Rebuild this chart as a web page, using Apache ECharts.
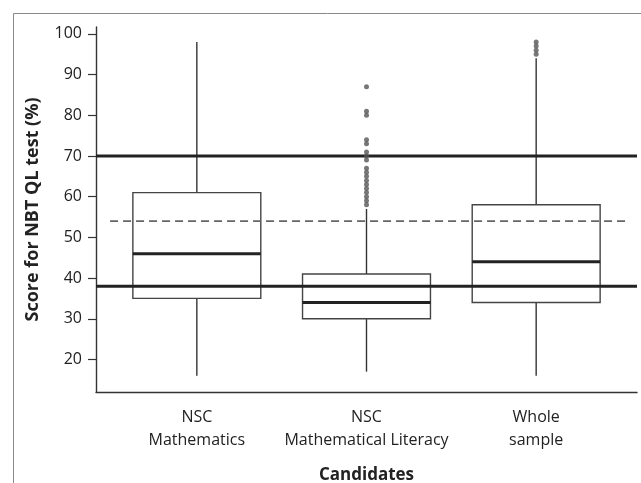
<!DOCTYPE html>
<html>
<head>
<meta charset="utf-8">
<script src="https://cdn.jsdelivr.net/npm/echarts@6/dist/echarts.min.js"></script>
<style>html,body{margin:0;padding:0;background:#fff;}#c{width:641px;height:483px;}</style>
</head>
<body>
<div id="c"></div>
<script>
var categories = ['NSC\nMathematics', 'NSC\nMathematical Literacy', 'Whole\nsample'];
var whiskerLow = [16, 17, 16];
var quartile1 = [35, 30, 34];
var medians = [46, 34, 44];
var quartile3 = [61, 41, 58];
var whiskerHigh = [98, 57, 94];
var outliersLiteracy = [87, 81, 80, 74, 73, 71, 70, 69, 67, 66, 65, 64, 63, 62, 61, 60, 59, 58];
var outliersWhole = [98, 97, 96, 95];
var yTicks = [20, 30, 40, 50, 60, 70, 80, 90, 100];
var solidRefLines = [70, 38];
var dashedRefLine = 54;

var FONT = 'Open Sans';
var chart = echarts.init(document.getElementById('c'), null, {renderer: 'canvas'});

var boxData = categories.map(function (c, i) {
  return [i, whiskerLow[i], quartile1[i], medians[i], quartile3[i], whiskerHigh[i]];
});
var outlierData = [];
outliersLiteracy.forEach(function (v) { outlierData.push([1, v]); });
outliersWhole.forEach(function (v) { outlierData.push([2, v]); });

var series = [];
solidRefLines.forEach(function (v) {
  series.push({
    type: 'line', xAxisIndex: 0, yAxisIndex: 0, symbol: 'none', silent: true,
    data: [[0, v], [1, v]],
    lineStyle: {color: '#222', width: 3}, z: 5
  });
});
series.push({
  type: 'line', xAxisIndex: 0, yAxisIndex: 0, symbol: 'none', silent: true,
  data: [[0.026, dashedRefLine], [0.987, dashedRefLine]],
  lineStyle: {color: '#666', width: 1.8, type: [8, 5]}, z: 4
});
series.push({
  type: 'custom', xAxisIndex: 1, yAxisIndex: 1, data: boxData, z: 3,
  renderItem: function (params, api) {
    var x = api.value(0);
    var lo = api.coord([x, api.value(1)]);
    var q1 = api.coord([x, api.value(2)]);
    var med = api.coord([x, api.value(3)]);
    var q3 = api.coord([x, api.value(4)]);
    var hi = api.coord([x, api.value(5)]);
    var half = api.size([1, 0])[0] * 0.377;
    var ls = {stroke: '#333', lineWidth: 1.4, fill: null};
    return {
      type: 'group',
      children: [
        {type: 'line', shape: {x1: lo[0], y1: lo[1], x2: q1[0], y2: q1[1]}, style: ls},
        {type: 'line', shape: {x1: q3[0], y1: q3[1], x2: hi[0], y2: hi[1]}, style: ls},
        {type: 'rect', shape: {x: q3[0] - half, y: q3[1], width: 2 * half, height: q1[1] - q3[1]}, style: {stroke: '#444', lineWidth: 1.4, fill: null}},
        {type: 'line', shape: {x1: med[0] - half, y1: med[1], x2: med[0] + half, y2: med[1]}, style: {stroke: '#222', lineWidth: 3}}
      ]
    };
  }
});
series.push({
  type: 'scatter', xAxisIndex: 1, yAxisIndex: 1, data: outlierData,
  symbol: 'circle', symbolSize: 5, itemStyle: {color: '#555'}, z: 6
});

var option = {
  animation: false,
  backgroundColor: '#fff',
  textStyle: {fontFamily: FONT},
  graphic: [{
    type: 'rect', left: 11, top: 11, silent: true,
    shape: {x: 0.5, y: 0.5, width: 700, height: 600},
    style: {fill: null, stroke: '#888', lineWidth: 1}
  }],
  grid: [
    {left: 96, right: 4, top: 27, bottom: 91, outerBoundsMode: 'none', containLabel: false},
    {left: 112, width: 509, top: 27, bottom: 91, outerBoundsMode: 'none', containLabel: false}
  ],
  xAxis: [
    {gridIndex: 0, type: 'value', min: 0, max: 1,
      axisLine: {show: true, onZero: false, lineStyle: {color: '#333', width: 1.4}},
      axisTick: {show: false}, axisLabel: {show: false}, splitLine: {show: false}},
    {gridIndex: 1, type: 'category', data: categories,
      axisLine: {show: false}, axisTick: {show: false}, splitLine: {show: false},
      axisLabel: {interval: 0, margin: 14, fontSize: 16, lineHeight: 23, color: '#222', fontFamily: FONT},
      name: 'Candidates', nameLocation: 'middle', nameGap: 75,
      nameTextStyle: {fontSize: 17, fontWeight: 'bold', color: '#222', fontFamily: FONT}}
  ],
  yAxis: [
    {gridIndex: 0, type: 'value', min: 12, max: 101.7,
      axisLine: {show: true, onZero: false, lineStyle: {color: '#333', width: 1.4}},
      axisTick: {show: true, length: 8, customValues: yTicks, lineStyle: {color: '#333', width: 1.2}},
      axisLabel: {customValues: yTicks, margin: 14, fontSize: 16, color: '#222', fontFamily: FONT},
      splitLine: {show: false},
      name: 'Score for NBT QL test (%)', nameLocation: 'middle', nameGap: 54,
      nameTextStyle: {fontSize: 18, fontWeight: 'bold', color: '#222', fontFamily: FONT}},
    {gridIndex: 1, type: 'value', min: 12, max: 101.7, show: false}
  ],
  series: series
};
chart.setOption(option);
</script>
</body>
</html>
